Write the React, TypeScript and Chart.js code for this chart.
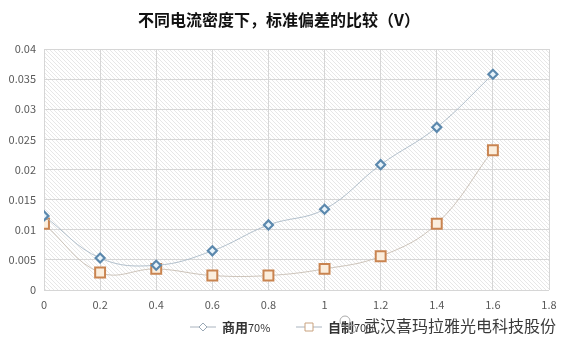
import React, { useEffect, useRef } from "react";
import { Chart, registerables } from "chart.js";

Chart.register(...registerables);

const TITLE = "不同电流密度下，标准偏差的比较（V）";
const WATERMARK = "武汉喜玛拉雅光电科技股份";
const xValues = [0, 0.2, 0.4, 0.6, 0.8, 1.0, 1.2, 1.4, 1.6];
const commercial = [0.0123, 0.0053, 0.0041, 0.0065, 0.0108, 0.0134, 0.0208, 0.0270, 0.0358];
const homemade = [0.0110, 0.0029, 0.0035, 0.0024, 0.0024, 0.0035, 0.0056, 0.0110, 0.0232];
const seriesNames = ["商用70%", "自制70%"];

const BLUE = "#5b88ad";
const ORANGE = "#c98450";
const FONT = "'Noto Sans CJK SC', 'Noto Sans', sans-serif";

function fmt(v: number) {
  return String(Number(Number(v).toFixed(4)));
}

export default function App() {
  const ref = useRef<HTMLCanvasElement | null>(null);
  useEffect(() => {
    document.body.style.margin = "0";
    const canvas = ref.current!;
    const pc = document.createElement("canvas");
    pc.width = 4;
    pc.height = 4;
    const p = pc.getContext("2d")!;
    p.fillStyle = "#ffffff";
    p.fillRect(0, 0, 4, 4);
    p.strokeStyle = "#dcdcdc";
    p.lineWidth = 0.7;
    p.beginPath();
    p.moveTo(-1, -1);
    p.lineTo(5, 5);
    p.moveTo(-1, 3);
    p.lineTo(1, 5);
    p.moveTo(3, -1);
    p.lineTo(5, 1);
    p.stroke();

    const bgPlugin = {
      id: "bg",
      beforeDraw(chart: any) {
        const { ctx, chartArea: a } = chart;
        ctx.save();
        ctx.fillStyle = ctx.createPattern(pc, "repeat");
        ctx.fillRect(a.left, a.top, a.right - a.left, a.bottom - a.top);
        ctx.restore();
      },
      afterDraw(chart: any) {
        const ctx = chart.ctx;
        ctx.save();
        ctx.fillStyle = "#111";
        ctx.font = `bold 16px ${FONT}`;
        ctx.textAlign = "center";
        ctx.textBaseline = "middle";
        ctx.fillText(TITLE, 279, 20);
        // legend
        const y = 327;
        const items = [
          { x: 190, color: BLUE, style: "diamond", name: seriesNames[0] },
          { x: 296, color: ORANGE, style: "square", name: seriesNames[1] },
        ];
        for (const it of items) {
          ctx.strokeStyle = "#aab4bf";
          ctx.lineWidth = 1;
          ctx.beginPath();
          ctx.moveTo(it.x, y);
          ctx.lineTo(it.x + 26, y);
          ctx.stroke();
          const cx = it.x + 13;
          ctx.fillStyle = "#fff";
          ctx.strokeStyle = it.style === "diamond" ? "#9aa8b5" : "#c9a27e";
          ctx.beginPath();
          if (it.style === "diamond") {
            ctx.moveTo(cx, y - 4);
            ctx.lineTo(cx + 4, y);
            ctx.lineTo(cx, y + 4);
            ctx.lineTo(cx - 4, y);
            ctx.closePath();
          } else {
            ctx.rect(cx - 4, y - 4, 8, 8);
          }
          ctx.fill();
          ctx.stroke();
          ctx.fillStyle = "#333";
          ctx.textAlign = "left";
          ctx.font = `bold 13px ${FONT}`;
          const cn = it.name.replace("70%", "");
          ctx.fillText(cn, it.x + 32, y);
          const w = ctx.measureText(cn).width;
          ctx.font = `11px ${FONT}`;
          ctx.fillText("70%", it.x + 32 + w, y + 1);
        }
        // watermark
        ctx.font = `16px ${FONT}`;
        ctx.fillStyle = "#3a3a3a";
        ctx.textAlign = "left";
        ctx.fillText(WATERMARK, 364, 326);
        ctx.strokeStyle = "#aaa";
        ctx.lineWidth = 1;
        ctx.beginPath();
        ctx.arc(345, 321, 5, 0, Math.PI * 2);
        ctx.stroke();
        ctx.beginPath();
        ctx.arc(352, 329, 4, 0, Math.PI * 2);
        ctx.stroke();
        ctx.restore();
      },
    };

    const chart = new Chart(canvas, {
      type: "scatter",
      data: {
        datasets: [
          {
            label: seriesNames[0],
            data: xValues.map((x, i) => ({ x, y: commercial[i] })),
            showLine: true,
            borderColor: "rgba(170,185,198,0.9)",
            borderWidth: 1,
            tension: 0.4,
            pointStyle: "rectRot",
            pointRadius: 4.5,
            pointBorderWidth: 2.2,
            pointBorderColor: BLUE,
            pointBackgroundColor: "#e8f3fa",
          },
          {
            label: seriesNames[1],
            data: xValues.map((x, i) => ({ x, y: homemade[i] })),
            showLine: true,
            borderColor: "rgba(200,190,178,0.9)",
            borderWidth: 1,
            tension: 0.4,
            pointStyle: "rect",
            pointRadius: 7,
            pointBorderWidth: 2,
            pointBorderColor: ORANGE,
            pointBackgroundColor: "#fbeedd",
          },
        ],
      },
      options: {
        animation: false,
        responsive: false,
        layout: { padding: { top: 49, right: 23, left: 0, bottom: 0 } },
        plugins: { legend: { display: false }, title: { display: false }, tooltip: { enabled: false } },
        scales: {
          x: {
            type: "linear",
            min: 0,
            max: 1.8,
            ticks: { stepSize: 0.2, padding: 8, color: "#595959", font: { family: FONT, size: 11 }, callback: (v: any) => fmt(v) },
            grid: { color: "#d6d6d6", drawTicks: false },
            border: { display: false },
            afterFit: (s: any) => { s.height = 62; },
          },
          y: {
            min: 0,
            max: 0.04,
            ticks: { stepSize: 0.005, padding: 8, color: "#595959", font: { family: FONT, size: 11 }, callback: (v: any) => fmt(v) },
            grid: { color: "#d6d6d6", drawTicks: false },
            border: { display: false },
            afterFit: (s: any) => { s.width = 44; },
          },
        },
      },
      plugins: [bgPlugin],
    } as any);
    return () => chart.destroy();
  }, []);
  return (
    <div style={{ position: "relative", width: 572, height: 352, background: "#fff" }}>
      <canvas ref={ref} width={572} height={352} style={{ display: "block", width: 572, height: 352 }} />
    </div>
  );
}
